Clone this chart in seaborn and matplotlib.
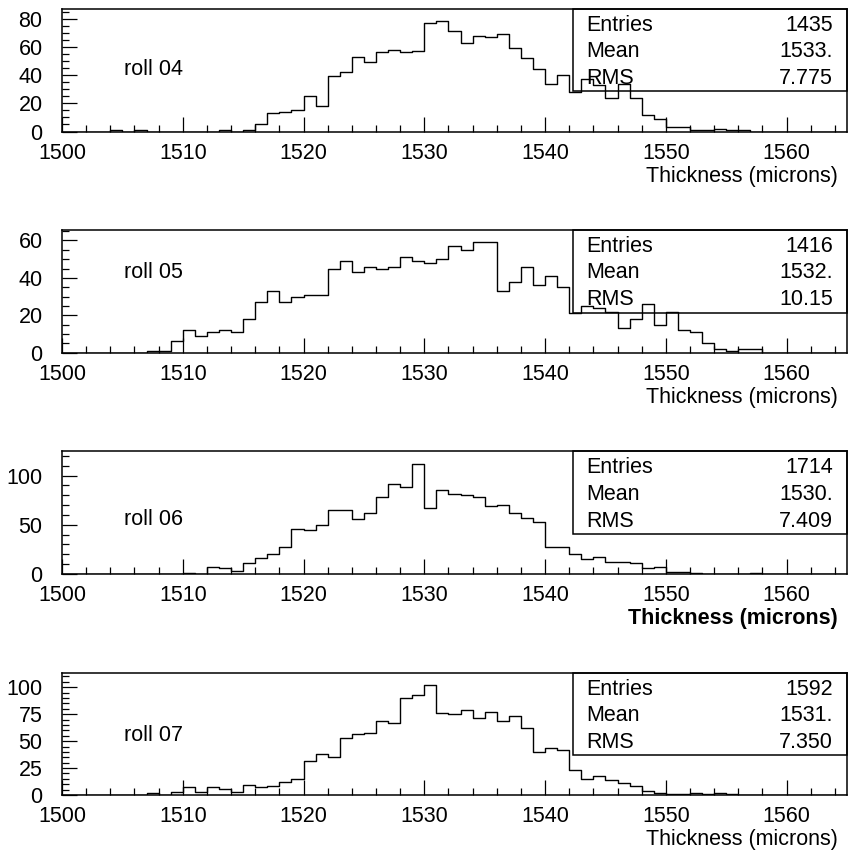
import numpy as np
import pandas as pd
import matplotlib
matplotlib.use("Agg")
import matplotlib.pyplot as plt
from matplotlib.patches import Rectangle
from matplotlib.ticker import MultipleLocator
import seaborn as sns

# ---------------- data ----------------
bin_lo = 1500
bin_hi = 1565
rolls = ["roll 04", "roll 05", "roll 06", "roll 07"]

counts_04 = [0, 0, 0, 0, 1, 0, 1, 0, 0, 0,
             0, 0, 0, 1, 0, 1, 5, 13, 14, 15,
             25, 18, 39, 42, 53, 49, 56, 58, 56, 57,
             77, 78, 71, 63, 68, 67, 69, 59, 52, 44,
             34, 40, 28, 37, 33, 24, 34, 24, 12, 9,
             3, 3, 1, 1, 2, 1, 1, 0, 0, 0,
             0, 0, 0, 0, 0]
counts_05 = [0, 0, 0, 0, 0, 0, 0, 1, 1, 6,
             12, 9, 11, 12, 11, 18, 27, 33, 27, 30,
             31, 31, 45, 49, 43, 46, 45, 46, 51, 49,
             48, 50, 57, 55, 59, 59, 33, 38, 46, 36,
             41, 35, 21, 25, 24, 22, 13, 18, 26, 15,
             22, 12, 11, 5, 2, 1, 2, 2, 0, 0,
             0, 0, 0, 0, 0]
counts_06 = [0, 0, 0, 0, 0, 0, 0, 0, 0, 0,
             1, 0, 7, 6, 3, 11, 16, 20, 27, 46,
             45, 50, 65, 65, 56, 62, 78, 91, 88, 112,
             67, 85, 81, 80, 78, 69, 70, 62, 57, 53,
             27, 27, 20, 15, 17, 12, 12, 11, 6, 7,
             2, 2, 1, 0, 0, 0, 0, 1, 0, 0,
             0, 0, 0, 0, 0]
counts_07 = [0, 0, 0, 0, 0, 0, 0, 2, 0, 3,
             7, 3, 7, 6, 3, 9, 7, 8, 12, 15,
             32, 38, 35, 53, 57, 58, 69, 67, 90, 93,
             102, 76, 75, 79, 71, 77, 69, 73, 62, 40,
             44, 42, 23, 15, 18, 14, 11, 8, 4, 2,
             1, 1, 2, 1, 2, 1, 0, 0, 0, 0,
             0, 0, 0, 0, 0]
all_counts = [counts_04, counts_05, counts_06, counts_07]

entries = ["1435", "1416", "1714", "1592"]
means = ["1533.", "1532.", "1530.", "1531."]
rms = ["7.775", "10.15", "7.409", "7.350"]

x_ticks = [1500, 1510, 1520, 1530, 1540, 1550, 1560]
y_major = [20, 20, 50, 25]
y_minor = [5, 5, 10, 5]
y_top = [86.8, 65.6, 125.0, 113.5]
xlabel = "Thickness (microns)"

# ---------------- layout ----------------
W, H = 853, 858
ax_left, ax_right = 62, 847
ax_tops = [9, 230, 451, 672.7]
ax_bots = [131.5, 352.7, 574, 795]
roll_label_y = [0.51, 0.655, 0.447, 0.485]
xlabel_bold = [False, False, True, False]

sns.set_theme(style="white")
plt.rcParams["font.family"] = ["Liberation Sans", "DejaVu Sans"]
plt.rcParams["axes.linewidth"] = 1.1

fig = plt.figure(figsize=(W / 100, H / 100), dpi=100)
fig.patch.set_facecolor("white")

centers = np.arange(bin_lo, bin_hi) + 0.5
FS = 15.5

for i in range(4):
    top, bot = ax_tops[i], ax_bots[i]
    ax = fig.add_axes([ax_left / W, 1 - bot / H,
                       (ax_right - ax_left) / W, (bot - top) / H])
    df = pd.DataFrame({"thickness": centers, "count": all_counts[i]})
    sns.histplot(data=df, x="thickness", weights="count", binwidth=1,
                 binrange=(bin_lo, bin_hi),
                 element="step", fill=False, color="black", linewidth=1.0,
                 ax=ax)
    ax.set_xlim(bin_lo, bin_hi)
    ax.set_ylim(0, y_top[i])
    ax.set_ylabel("")
    ax.set_xticks(x_ticks)
    ax.set_xticklabels([str(t) for t in x_ticks], fontsize=FS, color="black")
    ax.xaxis.set_minor_locator(MultipleLocator(2))
    ax.yaxis.set_major_locator(MultipleLocator(y_major[i]))
    ax.yaxis.set_minor_locator(MultipleLocator(y_minor[i]))
    ax.tick_params(axis="y", labelsize=FS, labelcolor="black")
    ax.tick_params(which="major", direction="in", length=10.5, width=0.9,
                   color="black", left=True, bottom=True, top=False, right=False)
    ax.tick_params(which="minor", direction="in", length=5, width=0.9,
                   color="black", left=True, bottom=True, top=False, right=False)
    ax.tick_params(axis="x", which="major", pad=8)
    ax.tick_params(axis="y", which="major", pad=14)
    for s in ax.spines.values():
        s.set_color("black")
        s.set_linewidth(1.1)
        s.set_visible(True)

    ax.set_xlabel(xlabel, fontsize=FS, loc="right",
                  fontweight="bold" if xlabel_bold[i] else "normal",
                  color="black")
    ax.xaxis.set_label_coords(0.9885, -0.365)
    ax.xaxis.label.set_va("center")

    ax.text(0.079, roll_label_y[i], rolls[i], transform=ax.transAxes,
            fontsize=FS, ha="left", va="center", color="black")

    # statistics box
    ax.add_patch(Rectangle((0.651, 0.327), 0.349, 0.673, transform=ax.transAxes,
                           fill=False, edgecolor="black", linewidth=1.1,
                           clip_on=False, zorder=5))
    rows = [("Entries", entries[i]), ("Mean", means[i]), ("RMS", rms[i])]
    for (lab, val), yy in zip(rows, [0.865, 0.65, 0.43]):
        ax.text(0.668, yy, lab, transform=ax.transAxes, fontsize=FS,
                ha="left", va="center", color="black", zorder=6)
        ax.text(0.982, yy, val, transform=ax.transAxes, fontsize=FS,
                ha="right", va="center", color="black", zorder=6)

fig.savefig("out.png", dpi=100, facecolor="white")
